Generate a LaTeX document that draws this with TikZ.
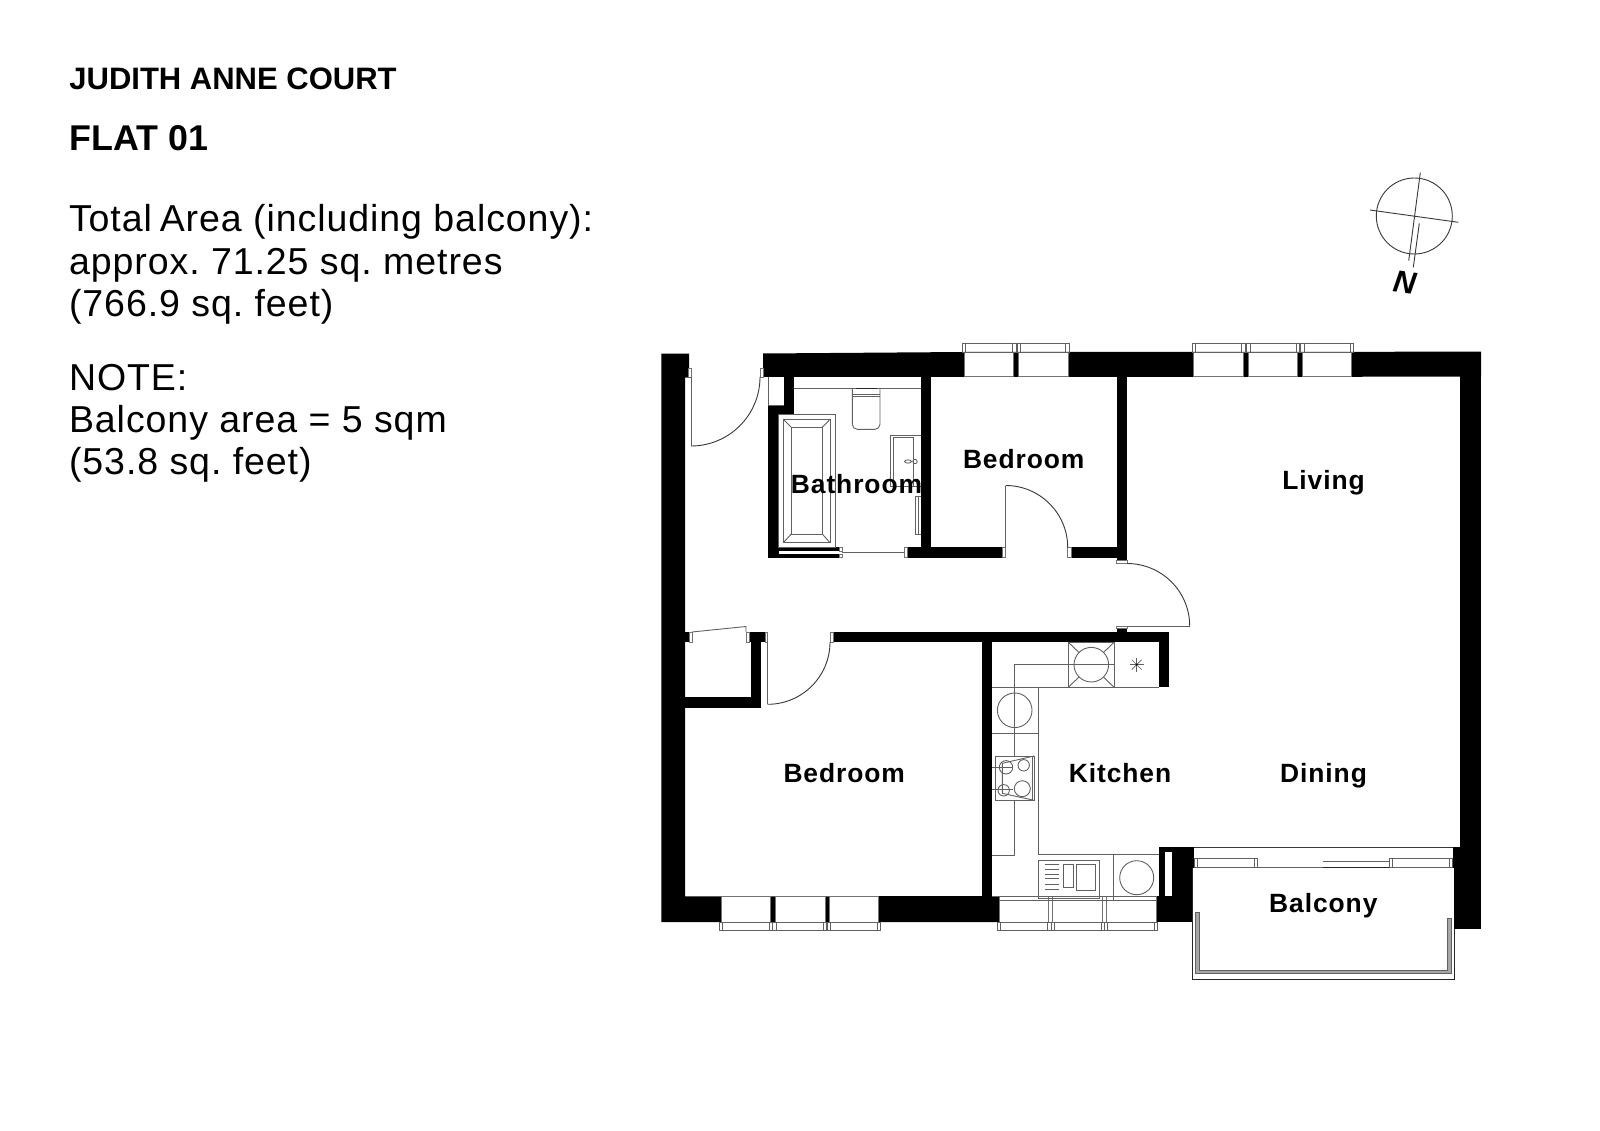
\documentclass[tikz,border=0pt]{standalone}
\usepackage{fontspec}
\setmainfont{Liberation Sans}
\newfontfamily\lblfont[LetterSpace=3.5]{Liberation Sans}
\newfontfamily\bodyfont[LetterSpace=2.5]{Liberation Sans}
\newcommand{\fs}[1]{\fontsize{#1}{#1}\selectfont}
\tikzset{
  wall/.style={fill=black},
  ln/.style={draw=black!62,line width=.9pt},
  lnd/.style={draw=black!78,line width=.9pt},
  jamb/.style={draw=black!55,fill=white,line width=.7pt},
  hdr/.style={anchor=base west,inner sep=0pt,outer sep=0pt,font=\bfseries\fs{31}},
  body/.style={anchor=base west,inner sep=0pt,outer sep=0pt,font=\frenchspacing\bodyfont\fs{37.5}},
  room/.style={anchor=base,inner sep=0pt,outer sep=0pt,font=\lblfont\bfseries\fs{26.4}}
}
\newcommand{\pane}[4]{\draw[ln] (#1,#3) rectangle (#2,#4);
  \draw[ln] (#1+3.3,#3) -- (#1+3.3,#4) (#2-3.3,#3) -- (#2-3.3,#4);}
\begin{document}
\begin{tikzpicture}[x=1pt,y=-1pt]
\useasboundingbox[fill=white] (0,0) rectangle (1600,1131);
% header text
\node[hdr] (title) at (69.4,89.3) {JUDITH ANNE COURT};
\node[hdr,font=\bfseries\fs{35.8}] (flat) at (69.4,151) {FLAT 01};
\node[body] (t1) at (69,232) {Total\hspace{-3.5pt} Area (including balcony):};
\node[body] (t2) at (69,274.4) {approx. 71.25 sq. metres};
\node[body] (t3) at (69,316.8) {(766.9 sq. feet)};
\node[body] (n1) at (69,390) {NOTE:};
\node[body] (n2) at (69,432.2) {Balcony area = 5 sqm};
\node[body] (n3) at (69,474) {(53.8 sq. feet)};
% north symbol
\draw[lnd] (1414.3,216) circle[radius=38];
\draw[lnd] (1370,210) -- (1458.3,222.3);
\draw[lnd] (1420.3,172.7) -- (1408.7,260.7);
\draw[lnd] (1419.3,223.3) -- (1413.3,267.3);
\node[inner sep=0pt,rotate=-8,font=\bfseries\itshape\fs{31}] (north) at (1405.3,282.3) {N};
% balcony outline (under the walls)
\draw[draw=black!85,line width=1pt] (1192.3,867.7) -- (1192.3,979) -- (1454.3,979) -- (1454.3,867.7) -- cycle;
\draw[ln,fill=black!35] (1195.7,912.7) -- (1195.7,973.3) -- (1451,973.3) -- (1451,918.3) -- (1447.3,918.3) -- (1447.3,970.7) -- (1199.3,970.7) -- (1199.3,912.7) -- cycle;
% ---- walls ----
\fill[wall] (661.3,353.5) -- (689,353.5) -- (689,377) -- (685,377) -- (685,896.3) -- (999,896.3) -- (999,922) -- (661.3,922) -- cycle;
\fill[wall] (763,353.5) -- (964,352) -- (1481,351.7) -- (1481,376.7) -- (763,377) -- cycle;
\fill[wall] (1460,370) rectangle (1481,929);
\fill[wall] (1452.7,847) rectangle (1461,867.7);
\fill[wall] (1454.3,867) rectangle (1461,929);
% bathroom
\fill[wall] (768.3,405) rectangle (793.7,414.3);
\fill[wall] (783.7,370) rectangle (793.7,414.3);
\fill[wall] (768.3,405) rectangle (778.3,557.7);
\fill[wall] (768.3,547.3) rectangle (839.3,557.7);
\fill[white] (779.3,551) rectangle (839.3,554.2);
\fill[wall] (921.3,370) rectangle (931.3,557.7);
\fill[wall] (907,547.3) rectangle (1002,557.7);
\fill[wall] (1071,547.3) rectangle (1118,557.7);
\fill[wall] (1116.7,370) rectangle (1127,560.7);
% corridor / bedroom
\fill[wall] (684,631.7) rectangle (689,642.3);
\fill[wall] (749,631.7) rectangle (765,642.3);
\fill[wall] (751,631.7) rectangle (761.3,708);
\fill[wall] (684,697.3) rectangle (761.3,708);
\fill[wall] (833,632) rectangle (1169.3,642.3);
\fill[wall] (982.3,632) rectangle (992.3,897);
\fill[wall] (1159.3,632) rectangle (1169.3,687.3);
\fill[wall] (1116.7,628.7) rectangle (1127,633);
% bottom right block
\fill[wall] (1159.3,847) rectangle (1194,867.7);
\fill[wall] (1159.3,866) rectangle (1192.3,900);
\fill[wall] (1156,896.3) rectangle (1192.3,921.7);
\fill[wall] (878.7,896.3) rectangle (999,922);
\fill[white] (1165,852.3) rectangle (1172,896);
% windows openings
\foreach \a/\b in {964/1013.3,1018/1068,1193.7/1243.3,1248/1297.7,1302/1351.3}
  \draw[jamb] (\a,352) rectangle (\b,376.7);
\foreach \a/\b in {721/770.7,775.3/825,829/878.7,999/1048.3,1052/1102,1106/1156}
  \draw[jamb] (\a,896.3) rectangle (\b,922);
\pane{962.3}{1016}{343}{352}\pane{1017.3}{1069}{343}{352}
\pane{1192.3}{1245}{343}{352}\pane{1246.7}{1299.3}{343}{352}\pane{1300.7}{1353.3}{343}{352}
\pane{719.3}{772.7}{922}{930.5}\pane{772.7}{826.7}{922}{930.5}\pane{827.3}{880.7}{922}{930.5}
\pane{997.3}{1051}{922}{930.7}\pane{1051}{1104.3}{922}{930.7}\pane{1104.3}{1157.7}{922}{930.7}
\draw[ln] (999,900.7) -- (1156,900.7);
% doors
\draw[jamb] (688.5,368) rectangle (691,377);
\draw[jamb] (760,368) rectangle (763,377);
\draw[ln] (685,377) -- (691,377) -- (691,446);
\draw[lnd] (691,446) .. controls (729.1,446) and (760,415.1) .. (760,377);
\draw[ln] (768.3,377) -- (768.3,405) (783.7,405) -- (768.3,405);
\draw[jamb] (689,632) rectangle (692,642.3);
\draw[jamb] (746,632) rectangle (749,642.3);
\draw[ln] (692,632) -- (746,626.5) -- (746,632);
\draw[jamb] (765,632) rectangle (767.7,642.3);
\draw[jamb] (830,632) rectangle (833,642.3);
\draw[ln] (767.7,642.3) -- (767.7,704.3);
\draw[lnd] (767.7,704.3) .. controls (802.1,704.3) and (830,676.4) .. (830,642);
\draw[jamb] (1002,547.3) rectangle (1005.7,557.7);
\draw[jamb] (1067.7,547.3) rectangle (1071,557.7);
\draw[ln] (1005.7,547.5) -- (1005.7,485.5);
\draw[lnd] (1005.7,485.5) .. controls (1039.9,485.5) and (1067.7,513.3) .. (1067.7,547.5);
\draw[jamb] (1116.7,560.7) rectangle (1127,563.5);
\draw[jamb] (1116.7,626) rectangle (1127,628.7);
\draw[ln] (1127,626) -- (1189.7,626);
\draw[lnd] (1127,563.5) .. controls (1161.6,563.5) and (1189.7,591.4) .. (1189.7,626);
% bath
\draw[ln] (778.3,414.3) rectangle (835.3,547.3);
\draw[ln] (783.3,419.3) rectangle (830,542.7);
\draw[ln] (791.3,427.3) rectangle (822.3,534);
\draw[ln] (783.3,419.3) -- (791.3,427.3) (830,419.3) -- (822.3,427.3) (783.3,542.7) -- (791.3,534) (830,542.7) -- (822.3,534);
\draw[ln] (842,552) -- (905,552);
\draw[jamb] (839.3,547.8) rectangle (842,551);
\draw[jamb] (839.3,554.2) rectangle (842,557.4);
\draw[jamb] (904,547.3) rectangle (907,557.7);
% bathroom fittings
\draw[ln] (793.7,388.3) -- (921.3,388.3);
\draw[ln,rounded corners=5pt] (852.3,388.3) -- (852.3,429.3) -- (880,429.3) -- (880,388.3);
\draw[ln] (852.3,394) -- (880,394) (852.3,396.7) -- (880,396.7);
\draw[draw=black!85,line width=1.3pt] (856,388.6) -- (877,388.6);
\draw[ln] (921.3,435) -- (890.7,435) -- (890.7,486.7) -- (921.3,486.7);
\draw[ln] (913.3,486) -- (913.3,437.3) -- (893.3,437.3) -- (893.3,486);
\draw[ln] (908,461.5) ellipse[x radius=3.5,y radius=1.6];
\draw[ln] (915,461.5) circle[radius=2.2];
\draw[ln] (921.3,496.7) -- (915,496.7) -- (915,534) -- (921.3,534) (918,496.7) -- (918,534);
% kitchen
\draw[ln] (992.3,687.3) -- (1038,687.3) -- (1038,854.3) -- (1159.3,854.3);
\draw[ln] (1038,687.3) -- (1159.3,687.3);
\draw[ln] (992.3,855.3) -- (1014.7,855.3) -- (1014.7,664.7) -- (1114,664.7);
\draw[ln] (1068.3,642.3) rectangle (1114,687.3);
\draw[ln] (1091.3,664.7) circle[radius=17.3];
\draw[ln] (1068.3,642.3) -- (1079,652.5) (1114,642.3) -- (1103.5,652.5) (1068.3,687.3) -- (1079,677) (1114,687.3) -- (1103.5,677);
\foreach \ang in {0,45,90,135}
  \draw[ln,line width=.6pt] ({1136.7+7*cos(\ang)},{664.7+7*sin(\ang)}) -- ({1136.7-7*cos(\ang)},{664.7-7*sin(\ang)});
\fill[black] (1136.7,664.7) circle[radius=1];
\draw[ln] (1014.7,710.3) circle[radius=17.3];
\draw[ln] (992.3,733.3) -- (1038,733.3);
\draw[fill=white,draw=black!62,line width=.9pt] (995.7,756) rectangle (1034,800.3);
\draw[ln] (1032.3,756) -- (1032.3,800.3);
\draw[ln] (1002.3,763.3) -- (1034,756) (1002.3,793.3) -- (1034,800.3) (1002.3,763.3) -- (1002.3,793.3);
\draw[ln] (992.3,767.3) -- (1013.3,767.3) (992.3,789) -- (1013.3,789);
\draw[ln] (1006,767.3) circle[radius=6.7];
\draw[ln] (1023.7,765.3) circle[radius=5.7];
\draw[ln] (1003.7,790.3) circle[radius=5.7];
\draw[ln] (1022.3,788.7) circle[radius=8];
\draw[ln] (1038.7,860.3) rectangle (1099.3,898.3);
\foreach \y in {864.3,869,874,878.7,884,889}
  \draw[ln] (1044.7,\y) -- (1059.3,\y);
\draw[ln] (1063.3,864.3) rectangle (1073.7,887.3);
\draw[ln] (1076.3,864.3) rectangle (1095.7,890.3);
\draw[ln] (1113.7,854.3) -- (1113.7,900.7);
\draw[ln] (1136.7,877.7) circle[radius=17];
\draw[ln] (992.3,896.7) -- (1156,896.7);
% sliding door
\draw[lnd] (1194,847) -- (1452.7,847);
\draw[ln] (1194.3,858.7) rectangle (1257.7,867.7);
\draw[ln] (1197.7,858.7) -- (1197.7,867.7) (1254.3,858.7) -- (1254.3,867.7);
\draw[ln] (1257.7,867.7) -- (1323.3,867.7);
\draw[ln] (1323.3,861) -- (1389,861);
\draw[ln] (1389,858.7) rectangle (1452.7,867.7);
\draw[ln] (1392.3,858.7) -- (1392.3,867.7) (1449.3,858.7) -- (1449.3,867.7);
% room labels
\node[room] (bath) at (856.5,493.2) {Bathroom};
\node[room] (bed1) at (1023.7,468.3) {Bedroom};
\node[room] (liv) at (1323.5,489.7) {Living};
\node[room] (bed2) at (844.2,782.3) {Bedroom};
\node[room] (kit) at (1120,782.3) {Kitchen};
\node[room] (din) at (1323.5,782.3) {Dining};
\node[room] (balc) at (1323.3,912) {Balcony};
\end{tikzpicture}
\end{document}
